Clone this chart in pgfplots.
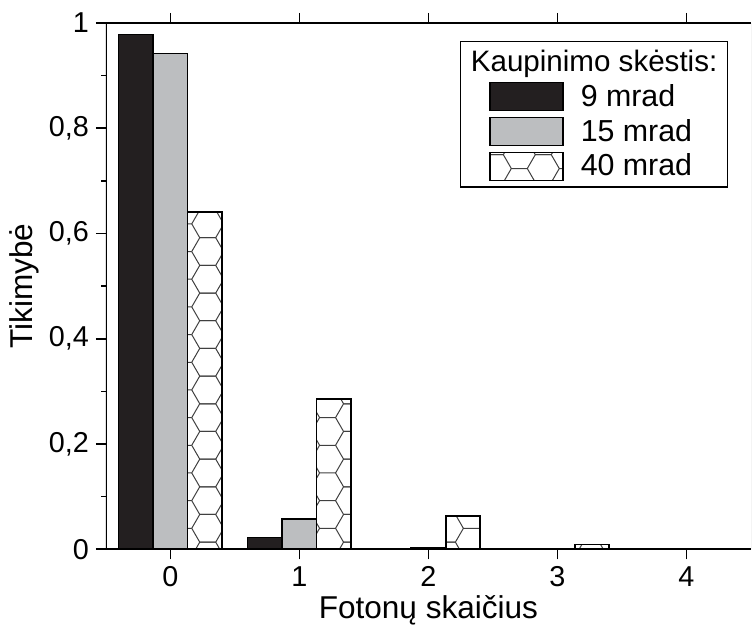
\documentclass[border=0pt]{standalone}
\usepackage{fontspec}
\setmainfont{Liberation Sans}
\usepackage{pgfplots}
\pgfplotsset{compat=1.18}
\usetikzlibrary{patterns}

\definecolor{barblack}{HTML}{231F20}
\definecolor{bargray}{HTML}{BCBEC0}
\definecolor{hexline}{HTML}{404040}

\pgfdeclarepatternformonly{hexagons}{\pgfqpoint{-1pt}{-1pt}}{\pgfqpoint{25pt}{14.856pt}}{\pgfqpoint{24pt}{13.856pt}}{%
  \pgfsetlinewidth{0.5pt}%
  \pgfpathmoveto{\pgfqpoint{4pt}{13.856pt}}\pgfpathlineto{\pgfqpoint{12pt}{13.856pt}}%
  \pgfpathmoveto{\pgfqpoint{4pt}{0pt}}\pgfpathlineto{\pgfqpoint{12pt}{0pt}}%
  \pgfpathmoveto{\pgfqpoint{12pt}{13.856pt}}\pgfpathlineto{\pgfqpoint{16pt}{6.928pt}}%
  \pgfpathlineto{\pgfqpoint{12pt}{0pt}}%
  \pgfpathmoveto{\pgfqpoint{16pt}{6.928pt}}\pgfpathlineto{\pgfqpoint{24pt}{6.928pt}}%
  \pgfpathmoveto{\pgfqpoint{4pt}{0pt}}\pgfpathlineto{\pgfqpoint{0pt}{6.928pt}}%
  \pgfpathlineto{\pgfqpoint{4pt}{13.856pt}}%
  \pgfusepath{stroke}%
}

\begin{document}
\begin{tikzpicture}
\begin{axis}[
  scale only axis,
  width=323pt, height=263.5pt,
  xmin=-0.5, xmax=4.5, ymin=0, ymax=1,
  axis line style={draw=none},
  xtick={0,1,2,3,4},
  xticklabels={0,1,2,3,4},
  xtick pos=both, xticklabel pos=lower,
  ytick={0,0.2,0.4,0.6,0.8,1},
  yticklabels={0,{0,2},{0,4},{0,6},{0,8},1},
  minor ytick={0.1,0.3,0.5,0.7,0.9},
  ytick pos=left,
  tick align=outside,
  major tick length=5pt, minor tick length=2.4pt,
  every tick/.style={black, line width=0.8pt},
  /pgf/number format/assume math mode=true,
  ticklabel style={font=\fontsize{14.4pt}{17pt}\selectfont},
  xticklabel style={anchor=base, yshift=-13.5pt},
  yticklabel style={anchor=east},
  label style={font=\fontsize{15.8pt}{19pt}\selectfont},
  xlabel={Fotonų skaičius},
  ylabel={Tikimybė},
  xlabel style={at={(axis description cs:0.5,0)}, anchor=base, yshift=-34.5pt},
  ylabel style={at={(axis description cs:-0.113,0.5)}, anchor=base},
  ybar=0pt, bar width=17.3pt,
  legend image code/.code={\path (0pt,0pt); \draw[#1, line width=0.8pt] (11.5pt,-7pt) rectangle (48pt,7pt);},
  legend cell align=left,
  legend style={at={(rel axis cs:1,1)}, anchor=north east, xshift=-11.5pt, yshift=-9pt,
    draw=black, line width=0.7pt, font=\fontsize{15.2pt}{18pt}\selectfont,
    /tikz/every odd column/.style={column sep=6.5pt}, row sep=1pt, inner xsep=3pt},
]
\addlegendimage{empty legend}
\addlegendentry{\hspace*{-55pt}{\fontsize{14.8pt}{18pt}\selectfont Kaupinimo skėstis:}}

\addplot[draw=black, fill=barblack, line width=0.8pt, bar shift=-17.3pt]
  coordinates {(0,0.978) (1,0.022) (2,0.001) (3,0) (4,0)};
\addlegendentry{9 mrad}

\addplot[draw=black, fill=bargray, line width=0.8pt, bar shift=0pt]
  coordinates {(0,0.942) (1,0.057) (2,0.002) (3,0) (4,0)};
\addlegendentry{15 mrad}

\addplot[draw=black, pattern=hexagons, pattern color=hexline, line width=0.8pt, bar shift=17.3pt]
  coordinates {(0,0.641) (1,0.285) (2,0.063) (3,0.009) (4,0.001)};
\addlegendentry{40 mrad\rule[-7pt]{0pt}{1pt}}

\draw[black, line width=0.8pt] (rel axis cs:0,1) -- (rel axis cs:0,0) -- (rel axis cs:1,0);
\draw[black, line width=0.8pt] (rel axis cs:0,1) -- (rel axis cs:1,1);
\draw[gray!70, line width=0.5pt] (rel axis cs:1,0) -- (rel axis cs:1,1);
\end{axis}
\pgfresetboundingbox
\path ([shift={(-53pt,-38pt)}]current axis.south west) rectangle ([shift={(1pt,11.5pt)}]current axis.north east);
\end{tikzpicture}
\end{document}
